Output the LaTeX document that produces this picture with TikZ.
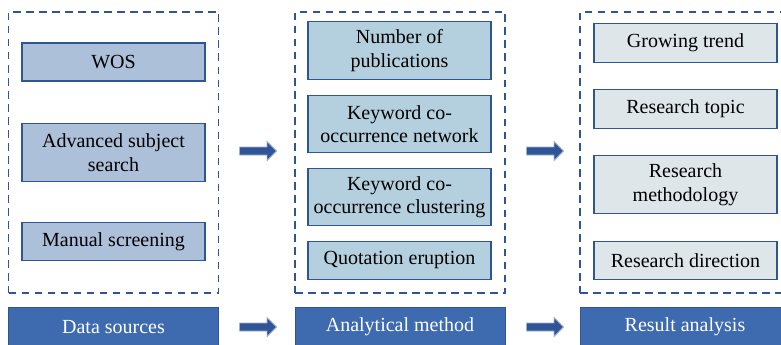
\documentclass[tikz,border=0pt]{standalone}
\usepackage{fontspec}
\setmainfont{Liberation Serif}
\usetikzlibrary{shapes.arrows}
\definecolor{bord}{RGB}{47,85,151}
\definecolor{fillA}{RGB}{173,192,217}
\definecolor{fillB}{RGB}{180,208,222}
\definecolor{fillC}{RGB}{222,230,234}
\definecolor{headfill}{RGB}{62,106,176}
\definecolor{arrfill}{RGB}{47,85,151}
\definecolor{arredge}{RGB}{160,178,210}
\begin{document}
\begin{tikzpicture}[x=1pt,y=-1pt,
  every node/.style={font=\fontsize{20}{23.5}\selectfont, align=center, inner sep=0pt, outer sep=0pt},
  itembox/.style={draw=bord, line width=1.8pt, minimum width=183pt},
  boxA/.style={itembox, fill=fillA},
  boxB/.style={itembox, fill=fillB},
  boxC/.style={itembox, fill=fillC},
  group/.style={draw=bord, line width=1.9pt, dash pattern=on 7.5pt off 5.5pt, minimum width=210pt, minimum height=281pt},
  headbox/.style={draw=bord, line width=1pt, fill=headfill, text=white, minimum width=210pt, minimum height=40pt},
  blockarrow/.style={single arrow, fill=arrfill, draw=arredge, line width=0.8pt, minimum height=37pt, minimum width=18pt, single arrow head extend=5.5pt, single arrow head indent=0pt, inner xsep=0pt, inner ysep=3.6pt, font=\tiny}
]
\useasboundingbox (0,0) rectangle (781,345);
\fill[white] (0,0) rectangle (781,345);

% group frames
\node[group] (g1) at (113.5,152.5) {};
\node[group] (g2) at (400,152.5) {};
\node[group] (g3) at (685,152.5) {};

% left column
\node[boxA, minimum height=38pt] (wos) at (113.5,62) {WOS};
\node[boxA, minimum height=58pt] (adv) at (113.5,152.5) {Advanced subject\\search};
\node[boxA, minimum height=38pt] (man) at (113.5,241.5) {Manual screening};

% middle column
\node[boxB, minimum height=58pt] (num) at (399.5,50.5) {Number of\\publications};
\node[boxB, minimum height=57pt] (net) at (399.5,124) {Keyword co-\\occurrence network};
\node[boxB, minimum height=57pt] (clu) at (399.5,197) {Keyword co-\\occurrence clustering};
\node[boxB, minimum height=38pt] (quo) at (399.5,260.5) {Quotation eruption};

% right column
\node[boxC, minimum height=39pt] (gro) at (685.5,43) {Growing trend};
\node[boxC, minimum height=39pt] (top) at (685.5,109) {Research topic};
\node[boxC, minimum height=58pt] (met) at (685.5,184.5) {Research\\methodology};
\node[boxC, minimum height=38pt] (dir) at (685.5,260.5) {Research direction};

% headers
\node[headbox] (h1) at (113.5,327) {Data sources};
\node[headbox] (h2) at (400,327) {Analytical method};
\node[headbox] (h3) at (685,327) {Result analysis};

% block arrows
\node[blockarrow] (a1) at (256,151) {};
\node[blockarrow] (a2) at (543,151) {};
\node[blockarrow] (a3) at (256,327) {};
\node[blockarrow] (a4) at (543,327) {};
\end{tikzpicture}
\end{document}
